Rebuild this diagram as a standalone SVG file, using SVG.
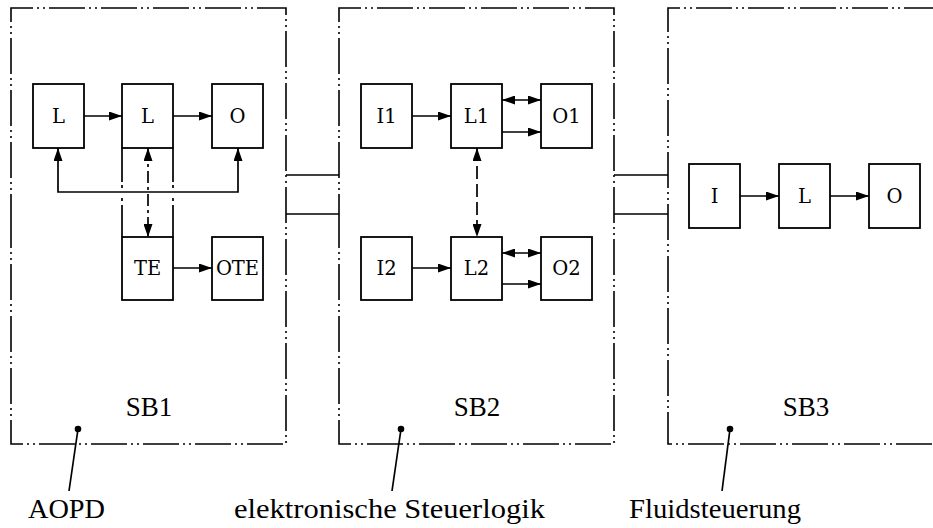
<svg xmlns="http://www.w3.org/2000/svg" width="933" height="528" viewBox="0 0 933 528">
<style>
.frame{fill:none;stroke:#000;stroke-width:1.6;stroke-dasharray:36 4 2 4 2 4}
.node rect{fill:#fff;stroke:#000;stroke-width:1.8}
.node text{font-family:"DejaVu Serif",serif;font-size:19.5px;text-anchor:middle;fill:#000}
.c{fill:none;stroke:#000;stroke-width:1.7}
.dash1{stroke-dasharray:12 4 3 4}
.dash2{stroke-dasharray:13 5}
.lbl{font-family:"Liberation Serif",serif;font-size:27px;fill:#000}
.sb{font-family:"Liberation Serif",serif;font-size:27px;fill:#000;text-anchor:middle}
</style>
<defs>
<marker id="ah" markerWidth="14" markerHeight="9" refX="13" refY="4.5" orient="auto-start-reverse" markerUnits="userSpaceOnUse">
<path d="M0,0 L13,4.5 L0,9 z" fill="#000"/>
</marker>
</defs>
<rect width="933" height="528" fill="#fff"/>

<g id="SB1">
<path class="frame" d="M11,230 V8 H286 V444 H11 Z"/>
<text class="sb" x="149" y="416">SB1</text>
</g>
<g id="SB2">
<path class="frame" d="M339,230 V8 H614 V444 H339 Z"/>
<text class="sb" x="477" y="416">SB2</text>
</g>
<g id="SB3">
<path class="frame" d="M940,8 H668 V444 H940"/>
<text class="sb" x="806" y="416">SB3</text>
</g>

<g id="n-L-a" class="node"><rect x="33" y="84" width="51" height="64"/><text x="58.5" y="123">L</text></g>
<g id="n-L-b" class="node"><rect x="122" y="84" width="51" height="64"/><text x="147.5" y="123">L</text></g>
<g id="n-O" class="node"><rect x="212" y="84" width="51" height="64"/><text x="237.5" y="123">O</text></g>
<g id="n-TE" class="node"><rect x="122" y="237" width="51" height="63"/><text x="147.5" y="275">TE</text></g>
<g id="n-OTE" class="node"><rect x="212" y="237" width="51" height="63"/><text x="237.5" y="275">OTE</text></g>

<g id="n-I1" class="node"><rect x="361" y="84" width="51" height="64"/><text x="386.5" y="123">I1</text></g>
<g id="n-L1" class="node"><rect x="451" y="84" width="51" height="64"/><text x="476.5" y="123">L1</text></g>
<g id="n-O1" class="node"><rect x="541" y="84" width="51" height="64"/><text x="566.5" y="123">O1</text></g>
<g id="n-I2" class="node"><rect x="361" y="237" width="51" height="63"/><text x="386.5" y="275">I2</text></g>
<g id="n-L2" class="node"><rect x="451" y="237" width="51" height="63"/><text x="476.5" y="275">L2</text></g>
<g id="n-O2" class="node"><rect x="541" y="237" width="51" height="63"/><text x="566.5" y="275">O2</text></g>

<g id="n-I" class="node"><rect x="689" y="164" width="51" height="64"/><text x="714.5" y="203">I</text></g>
<g id="n-L3" class="node"><rect x="779" y="164" width="51" height="64"/><text x="804.5" y="203">L</text></g>
<g id="n-O3" class="node"><rect x="869" y="164" width="51" height="64"/><text x="894.5" y="203">O</text></g>

<g id="connectors">
<line class="c" x1="84" y1="116" x2="122" y2="116" marker-end="url(#ah)"/>
<line class="c" x1="173" y1="116" x2="212" y2="116" marker-end="url(#ah)"/>
<path class="c" d="M58,148 V192 H238 V148" marker-start="url(#ah)" marker-end="url(#ah)"/>
<path class="c" d="M122,148 V182 M122,185 V188 M122,198 V201 M122,205 V237"/>
<path class="c" d="M173,148 V182 M173,185 V188 M173,198 V201 M173,205 V237"/>
<line class="c dash1" x1="148" y1="148" x2="148" y2="237" marker-start="url(#ah)" marker-end="url(#ah)"/>
<line class="c" x1="173" y1="268" x2="212" y2="268" marker-end="url(#ah)"/>

<line class="c" x1="286" y1="175" x2="339" y2="175"/>
<line class="c" x1="286" y1="214" x2="339" y2="214"/>
<line class="c" x1="614" y1="175" x2="668" y2="175"/>
<line class="c" x1="614" y1="214" x2="668" y2="214"/>

<line class="c" x1="412" y1="116" x2="451" y2="116" marker-end="url(#ah)"/>
<line class="c" x1="502" y1="100" x2="541" y2="100" marker-start="url(#ah)" marker-end="url(#ah)"/>
<line class="c" x1="502" y1="132" x2="541" y2="132" marker-end="url(#ah)"/>
<line class="c" x1="412" y1="268" x2="451" y2="268" marker-end="url(#ah)"/>
<line class="c" x1="502" y1="253" x2="541" y2="253" marker-start="url(#ah)" marker-end="url(#ah)"/>
<line class="c" x1="502" y1="284" x2="541" y2="284" marker-end="url(#ah)"/>
<line class="c dash2" x1="477" y1="148" x2="477" y2="237" marker-start="url(#ah)" marker-end="url(#ah)"/>

<line class="c" x1="740" y1="196" x2="779" y2="196" marker-end="url(#ah)"/>
<line class="c" x1="830" y1="196" x2="869" y2="196" marker-end="url(#ah)"/>

<circle cx="78" cy="429" r="3.3" fill="#000"/>
<line class="c" x1="78" y1="429" x2="69" y2="491"/>
<circle cx="401" cy="429" r="3.3" fill="#000"/>
<line class="c" x1="401" y1="429" x2="392" y2="491"/>
<circle cx="730" cy="429" r="3.3" fill="#000"/>
<line class="c" x1="730" y1="429" x2="722" y2="491"/>
</g>

<g id="labels">
<text class="lbl" x="28" y="518" textLength="77" lengthAdjust="spacingAndGlyphs">AOPD</text>
<text class="lbl" x="234" y="518" textLength="311" lengthAdjust="spacingAndGlyphs">elektronische Steuerlogik</text>
<text class="lbl" x="629" y="518" textLength="172" lengthAdjust="spacingAndGlyphs">Fluidsteuerung</text>
</g>
</svg>
